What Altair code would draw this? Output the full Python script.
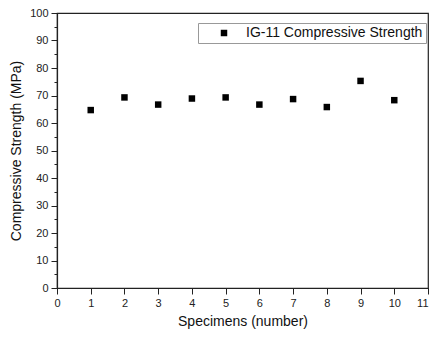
import altair as alt
import pandas as pd

specimens = [1, 2, 3, 4, 5, 6, 7, 8, 9, 10]
strength = [64.7, 69.3, 66.7, 68.9, 69.3, 66.7, 68.7, 65.8, 75.3, 68.3]
series = ["IG-11 Compressive Strength"] * len(specimens)

df = pd.DataFrame({"Specimen": specimens, "Strength": strength, "Series": series})

x_ticks = [i * 0.5 for i in range(0, 23)]
y_ticks = [i * 5 for i in range(0, 21)]

FONT = "Liberation Sans"

chart = (
    alt.Chart(df, background="white")
    .mark_square(size=42, opacity=1, filled=True)
    .encode(
        x=alt.X(
            "Specimen:Q",
            scale=alt.Scale(domain=[0, 11], nice=False, zero=False),
            axis=alt.Axis(
                title="Specimens (number)",
                values=x_ticks,
                format="d",
                labelExpr="datum.value % 1 === 0 ? datum.label : ''",
                labelAlign={"expr": "datum.value >= 11 ? 'right' : 'center'"},
                tickSize={"expr": "datum.value % 1 === 0 ? 6 : 3"},
                grid=False,
                labelPadding=3,
                titlePadding=6,
            ),
        ),
        y=alt.Y(
            "Strength:Q",
            scale=alt.Scale(domain=[0, 100], nice=False),
            axis=alt.Axis(
                title="Compressive Strength (MPa)",
                values=y_ticks,
                format="d",
                labelExpr="datum.value % 10 === 0 ? datum.label : ''",
                tickSize={"expr": "datum.value % 10 === 0 ? 6 : 3"},
                grid=False,
                labelPadding=3,
                titlePadding=6,
            ),
        ),
        color=alt.Color(
            "Series:N",
            scale=alt.Scale(range=["#000000"]),
            legend=alt.Legend(
                title=None,
                orient="none",
                legendX=141,
                legendY=10,
                strokeColor="#999999",
                padding=3,
                symbolOffset=16,
                labelOffset=15,
                symbolType="square",
                symbolSize=42,
                labelFontSize=14,
                labelFont=FONT,
                labelColor="#111111",
                labelLimit=400,
            ),
        ),
    )
    .properties(
        width=371,
        height=275,
        autosize=alt.AutoSizeParams(type="none"),
        padding={"left": 49, "top": 5, "right": 1, "bottom": 42},
    )
    .configure_view(stroke="#222222", strokeWidth=1.2)
    .configure_axis(
        domainColor="#222222",
        domainWidth=1.2,
        tickColor="#222222",
        tickWidth=1,
        labelFont=FONT,
        labelFontSize=11,
        labelColor="#222222",
        titleFont=FONT,
        titleFontSize=14,
        titleFontWeight="normal",
        titleColor="#111111",
    )
)

chart.save("out.html", embed_options={"renderer": "svg", "actions": False})
